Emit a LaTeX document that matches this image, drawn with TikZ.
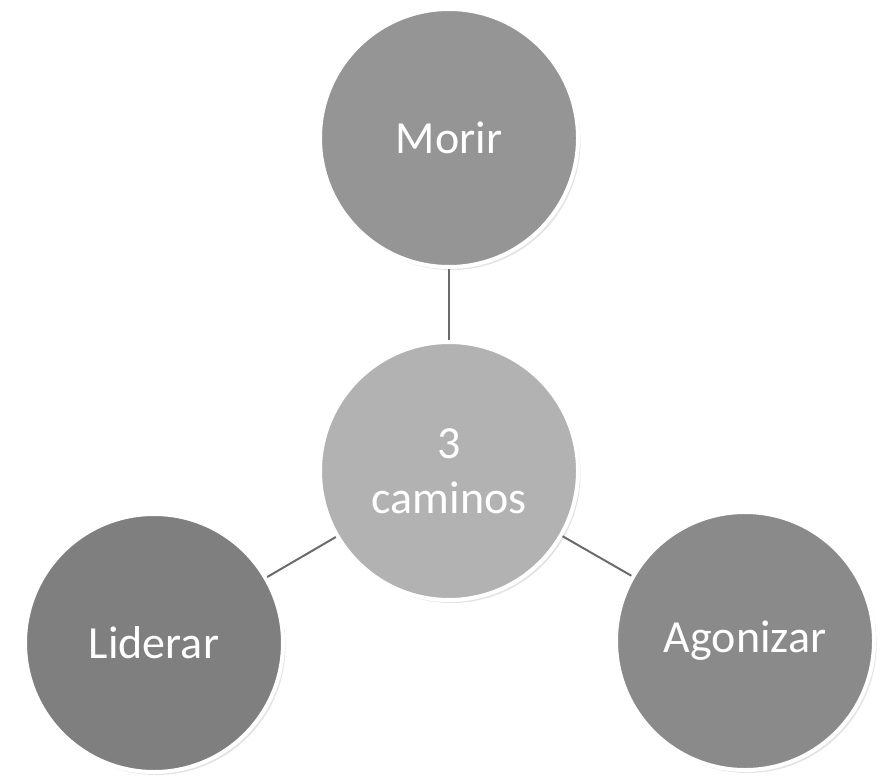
\documentclass[tikz,border=0pt]{standalone}
\usepackage{fontspec}
\setmainfont{Carlito}
\usetikzlibrary{shadows}
\definecolor{cMorir}{HTML}{959595}
\definecolor{cLid}{HTML}{7F7F7F}
\definecolor{cAgo}{HTML}{8A8A8A}
\definecolor{cCen}{HTML}{B2B2B2}
\definecolor{cLine}{HTML}{6B6B6B}
\begin{document}
\begin{tikzpicture}[x=1pt,y=-1pt,
  bubble/.style={circle, draw=white, line width=4pt, minimum size=258pt, inner sep=0pt,
    text=white, font=\fontsize{46}{55}\selectfont, align=center,
    drop shadow={opacity=0.22, shadow xshift=2.5pt, shadow yshift=-3pt}},
  link/.style={draw=cLine, line width=2pt}]
\useasboundingbox (0,0) rectangle (882,783);
\node[bubble, fill=cCen] (c) at (449,471) {3\\caminos};
\node[bubble, fill=cMorir] (m) at (449,138) {Morir};
\node[bubble, fill=cLid] (l) at (154,643) {Liderar};
\node[bubble, fill=cAgo] (a) at (745,641) {Agonizar};
\draw[link] (c) -- (m);
\draw[link] (c) -- (l);
\draw[link] (c) -- (a);
\end{tikzpicture}
\end{document}
